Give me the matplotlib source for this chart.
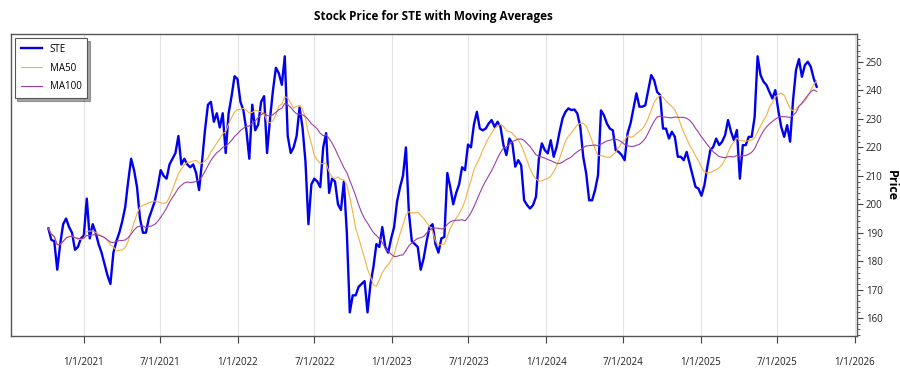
import numpy as np
import pandas as pd
import matplotlib
matplotlib.use("Agg")
import matplotlib.pyplot as plt
import matplotlib.dates as mdates
from matplotlib.ticker import MultipleLocator

plt.rcParams['font.family'] = ['Open Sans', 'DejaVu Sans']

# weekly closes (Fridays)
close_2020 = [191.5, 187.5, 187.0, 177.0, 186.0, 193.0, 195.0, 192.0, 190.0, 184.0, 185.0, 188.0]
close_2021 = [189.0, 202.0, 188.0, 193.0, 190.0, 186.0, 183.0, 179.0, 175.0, 172.0,
              183.0, 187.0, 190.0, 194.0, 199.0, 208.0, 216.0, 212.0, 206.0, 195.0,
              190.0, 190.0, 195.0, 198.0, 201.0, 206.0, 212.0, 210.0, 209.0, 214.0,
              216.0, 218.0, 224.0, 214.0, 216.0, 214.0, 213.0, 214.0, 211.0, 205.0,
              215.0, 226.0, 235.0, 236.0, 229.0, 232.0, 227.0, 232.0, 218.0, 232.0,
              238.0, 245.0, 244.0]
close_2022 = [236.0, 233.0, 226.0, 216.0, 235.0, 226.0, 228.0, 236.0, 238.0, 218.0,
              230.0, 240.0, 248.0, 246.0, 242.0, 252.0, 224.0, 218.0, 220.0, 224.0,
              234.0, 227.0, 215.0, 193.0, 207.0, 209.0, 208.0, 206.0, 220.0, 225.0,
              204.0, 209.0, 208.0, 200.0, 198.0, 208.0, 190.0, 162.0, 168.0, 168.0,
              171.0, 172.0, 173.0, 162.0, 172.0, 178.0, 186.0, 185.0, 192.0, 185.0,
              183.0, 188.0]
close_2023 = [192.0, 201.0, 206.0, 210.0, 220.0, 197.0, 187.0, 186.0, 185.0, 177.0,
              181.0, 187.0, 192.0, 193.0, 186.0, 183.0, 188.0, 188.5, 211.0, 206.0,
              200.0, 204.0, 207.0, 213.0, 212.0, 221.0, 220.0, 228.0, 232.5, 226.6,
              226.0, 226.6, 228.4, 229.6, 227.2, 229.0, 227.2, 220.8, 217.3, 223.1,
              221.4, 213.2, 215.5, 213.7, 201.4, 199.7, 198.5, 199.7, 202.6, 216.1,
              221.4, 219.0]
close_2024 = [217.9, 222.5, 216.7, 220.2, 225.5, 230.2, 232.5, 233.7, 233.1, 233.3,
              231.9, 227.2, 216.7, 210.8, 201.4, 201.4, 205.0, 210.2, 233.0, 231.3,
              228.4, 226.6, 226.0, 219.0, 218.4, 217.3, 215.5, 224.9, 228.4, 233.7,
              239.0, 234.3, 234.3, 234.8, 240.1, 245.4, 243.6, 239.5, 238.4, 226.6,
              226.6, 223.1, 225.5, 223.7, 216.7, 216.7, 215.5, 218.4, 214.3, 210.2,
              206.1, 205.5]
close_2025 = [203.0, 206.7, 213.2, 219.0, 220.2, 223.1, 220.8, 222.0, 224.3, 229.6,
              225.5, 222.5, 226.1, 209.0, 220.8, 220.8, 223.7, 223.7, 230.7, 252.0,
              245.4, 243.1, 241.9, 239.5, 237.2, 240.1, 233.1, 227.2, 223.7, 227.8,
              222.0, 236.6, 247.2, 251.0, 244.8, 248.9, 250.1, 248.3, 244.2, 241.3]

closes = close_2020 + close_2021 + close_2022 + close_2023 + close_2024 + close_2025
dates = pd.date_range('2020-10-09', periods=len(closes), freq='W-FRI')
df = pd.DataFrame({'Close': closes}, index=dates)

# 50 / 100 trading days ~ 10 / 20 weeks
df['MA50'] = df['Close'].rolling(10, min_periods=1).mean()
df['MA100'] = df['Close'].rolling(20, min_periods=1).mean()

fig = plt.figure(figsize=(9, 3.75), dpi=100)
ax = fig.add_axes([0.012, 0.104, 0.940, 0.805])

ax.plot(df.index, df['Close'], color='#0000ee', linewidth=1.7, label='STE')
ax.plot(df.index, df['MA50'], color='#f5b041', linewidth=0.8, label='MA50')
ax.plot(df.index, df['MA100'], color='#9b40a8', linewidth=0.8, label='MA100')

ax.set_xlim(pd.Timestamp('2020-07-12'), pd.Timestamp('2026-01-06'))
ax.set_ylim(153.7, 259.8)

ax.xaxis.set_major_locator(mdates.MonthLocator(bymonth=[1, 7]))
ax.xaxis.set_major_formatter(plt.FuncFormatter(
    lambda v, p: '{d.month}/{d.day}/{d.year}'.format(d=mdates.num2date(v))))
ax.tick_params(axis='x', direction='out', length=5, pad=10, labelsize=7,
               color='#444444', labelcolor='#222222')

ax.yaxis.tick_right()
ax.yaxis.set_label_position('right')
ax.yaxis.set_major_locator(MultipleLocator(10))
ax.yaxis.set_minor_locator(MultipleLocator(2))
ax.tick_params(axis='y', which='major', direction='out', length=4, pad=2.5,
               labelsize=7, color='#444444', labelcolor='#222222')
ax.tick_params(axis='y', which='minor', direction='out', length=2, color='#444444')
ax.set_ylabel('Price', fontsize=9, fontweight='bold', rotation=270, labelpad=11)

ax.grid(axis='x', color='#e3e3e3', linewidth=0.8)
ax.set_axisbelow(True)
for s in ax.spines.values():
    s.set_color('#555555')
    s.set_linewidth(1.0)

ax.set_title('Stock Price for STE with Moving Averages', fontsize=8.5,
             fontweight='bold', pad=10)

leg = ax.legend(loc='upper left', fontsize=7, frameon=True, fancybox=False,
                shadow=True, borderaxespad=0.4, handlelength=2.2,
                labelspacing=0.8, borderpad=0.6)
leg.get_frame().set_edgecolor('#555555')
leg.get_frame().set_linewidth(0.8)

fig.savefig('out.png', dpi=100)
